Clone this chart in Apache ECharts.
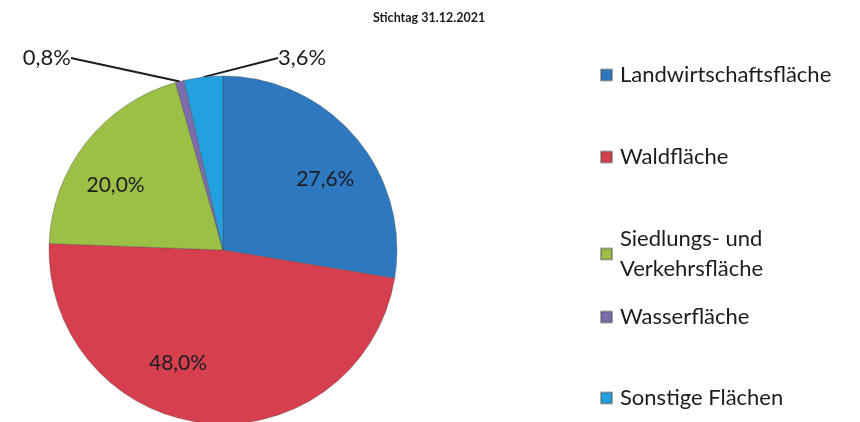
<!DOCTYPE html>
<html>
<head>
<meta charset="utf-8">
<script src="https://cdn.jsdelivr.net/npm/echarts@6/dist/echarts.min.js"></script>
<style>
  html, body { margin: 0; padding: 0; background: #fff; }
  #chart { width: 860px; height: 422px; }
</style>
</head>
<body>
<div id="chart"></div>
<script>
// Flächennutzung, Stichtag 31.12.2021 (Anteile in %)
var categories = ['Landwirtschaftsfläche', 'Waldfläche', 'Siedlungs- und Verkehrsfläche', 'Wasserfläche', 'Sonstige Flächen']
var shares = [27.6, 48.0, 20.0, 0.8, 3.6]
var colors = ['#2e78c0', '#d6404e', '#9cc045', '#7c6cab', '#22a0df']
var legendTops = [60, 142, 209, 302, 383]
// kleine Verschiebung der Innenbeschriftungen wie im Original
var innerShift = [[4, 13], [-32, -15], [-6, 15]]

var FONT = 'Lato, "Open Sans", sans-serif'

function pct(v) {
  return v.toFixed(1).replace('.', ',') + '%'
}

var chart = echarts.init(document.getElementById('chart'))

var pieData = categories.map(function(name, i) {
  return {
    name: name,
    value: shares[i],
    itemStyle: { color: colors[i] },
    // nur die kleinen Segmente bekommen eine Beschriftung außen
    label: { show: i >= 3 },
    labelLine: { show: i >= 3 }
  }
})

var innerData = categories.map(function(name, i) {
  return {
    name: name,
    value: shares[i],
    label: { show: i < 3 }
  }
})

var legends = categories.map(function(name, i) {
  var twoLines = name.indexOf('Siedlungs') === 0
  return {
    data: [name],
    left: 600,
    top: legendTops[i],
    padding: 0,
    orient: 'vertical',
    icon: 'rect',
    itemWidth: 11,
    itemHeight: 11,
    selectedMode: false,
    formatter: function(n) {
      return twoLines ? 'Siedlungs- und\nVerkehrsfläche' : n
    },
    textStyle: {
      fontFamily: FONT,
      fontSize: 22,
      color: '#1c1c1c',
      lineHeight: 30,
      padding: twoLines ? [30, 0, 0, 3] : [0, 0, 0, 3]
    }
  }
})

var option = {
  backgroundColor: '#fff',
  animation: false,
  title: {
    text: 'Stichtag 31.12.2021',
    left: 373,
    top: 11,
    padding: 0,
    textStyle: {
      fontFamily: FONT,
      fontSize: 12.5,
      fontWeight: 'bold',
      color: '#1c1c1c'
    }
  },
  legend: legends,
  series: [
    {
      type: 'pie',
      center: [223, 250],
      radius: 174,
      startAngle: 90,
      clockwise: true,
      avoidLabelOverlap: false,
      itemStyle: {
        borderColor: 'rgba(70,70,70,0.45)',
        borderWidth: 0.8
      },
      label: {
        position: 'outside',
        fontFamily: FONT,
        fontSize: 22,
        color: '#1c1c1c',
        formatter: function(p) { return pct(p.value) }
      },
      labelLine: {
        length: 0,
        length2: 0,
        lineStyle: { color: '#1c1c1c', width: 2 }
      },
      labelLayout: function(params) {
        if (params.dataIndex === 3) {
          return { x: 71, y: 58, align: 'right', verticalAlign: 'middle' }
        }
        if (params.dataIndex === 4) {
          return { x: 278, y: 58, align: 'left', verticalAlign: 'middle' }
        }
      },
      data: pieData
    },
    {
      // unsichtbarer Ring nur für die Innenbeschriftung
      type: 'pie',
      center: [223, 250],
      radius: [96, 156],
      startAngle: 90,
      clockwise: true,
      silent: true,
      avoidLabelOverlap: false,
      itemStyle: { color: 'rgba(0,0,0,0)', borderWidth: 0 },
      label: {
        position: 'inside',
        fontFamily: FONT,
        fontSize: 21,
        color: '#1c1c24',
        formatter: function(p) { return pct(p.value) }
      },
      labelLine: { show: false },
      labelLayout: function(params) {
        var s = innerShift[params.dataIndex]
        if (s) {
          return { dx: s[0], dy: s[1] }
        }
      },
      data: innerData
    }
  ]
}

chart.setOption(option)
</script>
</body>
</html>
